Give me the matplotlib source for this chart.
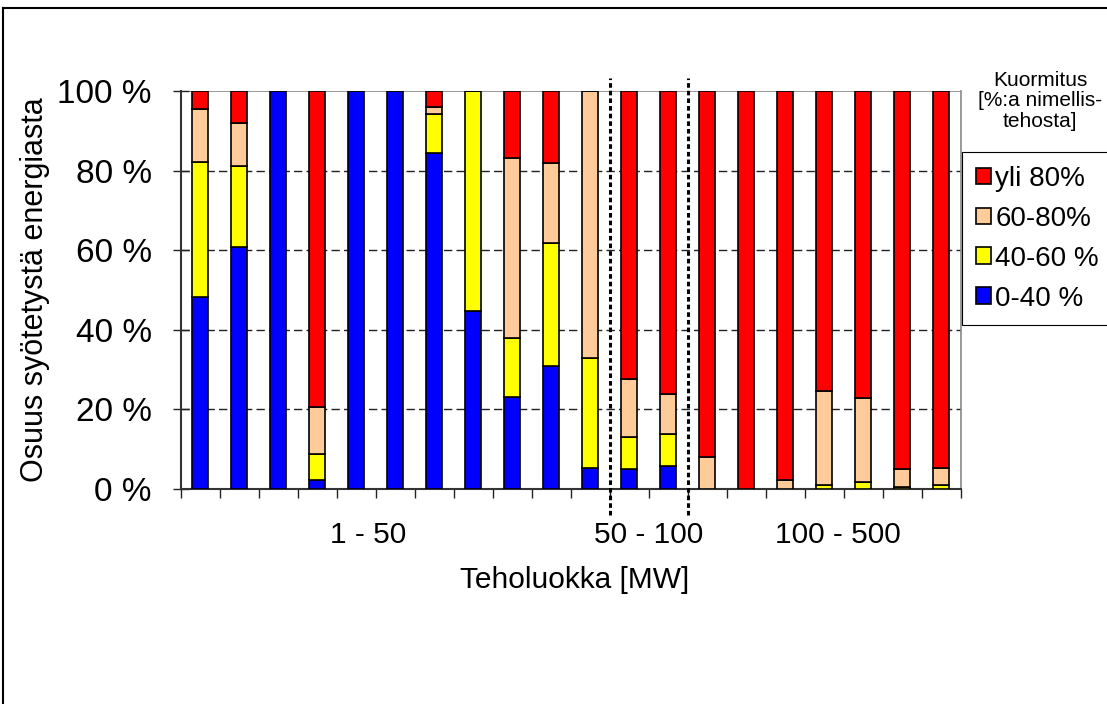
import matplotlib
matplotlib.use("Agg")
import matplotlib.pyplot as plt
import numpy as np
from matplotlib.lines import Line2D

plt.rcParams['font.family'] = ['Liberation Sans', 'DejaVu Sans']

# === Data (osuus syötetystä energiasta, %) ===
n_bars = 20
blue = [48.3, 60.9, 100, 2.3, 100, 100, 84.5, 44.8, 23.2, 31.0,
        5.4, 4.9, 5.8, 0, 0, 0, 0, 0, 0, 0]
yellow = [33.9, 20.3, 0, 6.6, 0, 0, 9.8, 55.2, 14.8, 30.7,
          27.6, 8.1, 8.0, 0, 0, 0, 0.9, 1.8, 0.4, 0.9]
peach = [13.3, 10.8, 0, 11.7, 0, 0, 1.8, 0, 45.1, 20.1,
         67.0, 14.6, 10.0, 8.0, 0, 2.3, 23.7, 21.0, 4.5, 4.5]
red = [4.5, 8.0, 0, 79.4, 0, 0, 3.9, 0, 16.9, 18.2,
       0, 72.4, 76.2, 92.0, 100, 97.7, 75.4, 77.2, 95.1, 94.6]

series_labels = ["0-40 %", "40-60 %", "60-80%", "yli 80%"]
series_colors = ["#0000FF", "#FFFF00", "#FFCC99", "#FF0000"]

group_labels = ["1 - 50", "50 - 100", "100 - 500"]
group_pos = [4.3, 11.5, 16.35]
separators = [10.5, 12.5]
yticks = [0, 20, 40, 60, 80, 100]

# === Figure ===
fig = plt.figure(figsize=(11.07, 7.04), dpi=100)
ax = fig.add_axes([0.1635, 0.3054, 0.7046, 0.5653])

x = np.arange(n_bars)
bottom = np.zeros(n_bars)
handles = []
for vals, col, lab in zip([blue, yellow, peach, red], series_colors, series_labels):
    b = ax.bar(x, vals, width=0.41, bottom=bottom, color=col, edgecolor="black",
               linewidth=1.2, label=lab, zorder=3)
    handles.append(b)
    bottom = bottom + np.array(vals)

ax.set_xlim(-0.5, n_bars - 0.5)
ax.set_ylim(0, 100)
ax.set_yticks(yticks)
ax.set_yticklabels([f"{v} %" for v in yticks], fontsize=24)
ax.set_xticks(np.arange(-0.5, n_bars, 1.0))
ax.set_xticklabels([])
ax.tick_params(axis="x", direction="out", length=6.5, width=1, color="#222222")
ax.tick_params(axis="y", direction="inout", length=12, width=1, color="#222222", pad=15)

# gridlines
for v in [20, 40, 60, 80]:
    ax.axhline(v, color="#222222", linewidth=1, linestyle=(0, (6, 3)), zorder=1)
ax.axhline(100, color="#888888", linewidth=1.2, zorder=1)

for s in ["left", "bottom"]:
    ax.spines[s].set_color("#333333")
    ax.spines[s].set_linewidth(1.5)
ax.spines["top"].set_visible(False)
ax.spines["right"].set_color("#888888")
ax.spines["right"].set_linewidth(1.2)

# separators between power classes
for sx in separators:
    ax.plot([sx, sx], [-6.5, 103.3], color="black", linewidth=2.2,
            linestyle=(0, (1.5, 1)), clip_on=False, zorder=5)

for lab, gx in zip(group_labels, group_pos):
    ax.text(gx, -11.6, lab, ha="center", va="center", fontsize=21.5)

ax.text(9.6, -22.9, "Teholuokka [MW]", ha="center", va="center", fontsize=21.5)
ax.set_ylabel("Osuus syötetystä energiasta", fontsize=22)
ax.yaxis.set_label_coords(-0.168, 0.5)

# legend
leg = fig.legend([handles[3], handles[2], handles[1], handles[0]],
                 [series_labels[3], series_labels[2], series_labels[1], series_labels[0]],
                 loc="upper left", bbox_to_anchor=(962 / 1107, 1 - 152 / 704),
                 fontsize=20, frameon=True, fancybox=False, framealpha=1,
                 edgecolor="black", handlelength=0.55, handleheight=0.55,
                 handletextpad=0.15, labelspacing=0.5, borderpad=0.5,
                 borderaxespad=0)
leg.get_frame().set_linewidth(0.8)
fig.text(1040 / 1107, 1 - 101 / 704, "Kuormitus\n[%:a nimellis-\ntehosta]",
         ha="center", va="center", fontsize=15, linespacing=1.1)

# outer border
fig.add_artist(Line2D([3 / 1107, 1.0], [1 - 8 / 704, 1 - 8 / 704], color="black", linewidth=1.5))
fig.add_artist(Line2D([3 / 1107, 3 / 1107], [0, 1 - 8 / 704], color="black", linewidth=1.5))

fig.savefig("out.png", dpi=100)
